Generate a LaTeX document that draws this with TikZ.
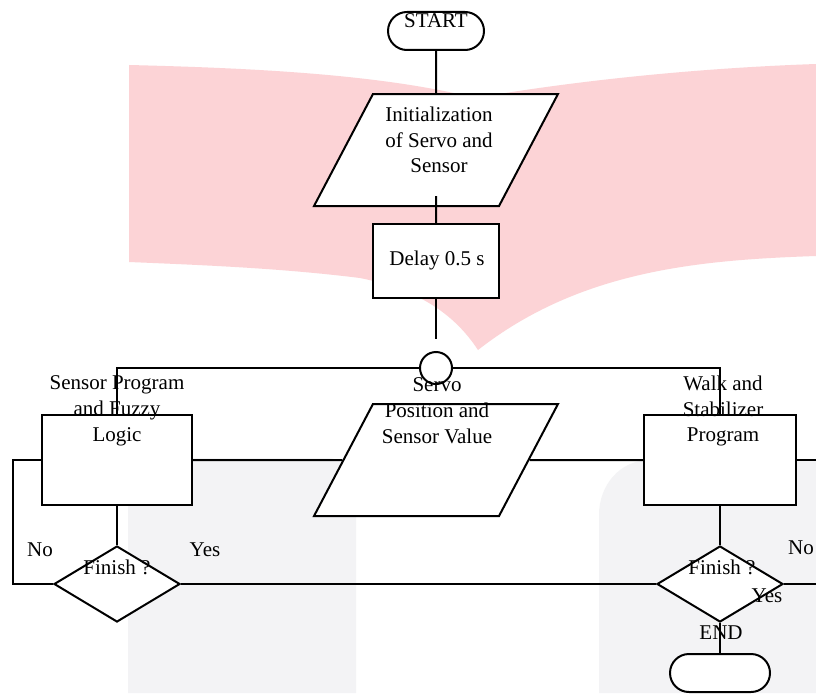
\documentclass[tikz,border=0pt]{standalone}
\usepackage{fontspec}
\setmainfont{Liberation Serif}
\usetikzlibrary{shapes.geometric,shapes.misc}
\definecolor{wmpink}{RGB}{252,211,214}
\definecolor{wmgray}{RGB}{243,243,245}

\begin{document}
\begin{tikzpicture}
    \begin{scope}
      [x=1pt, y=-1pt,
      line width=2pt,
      shp/.style={draw, fill=white, inner sep=0pt},
      proc/.style={shp, rectangle},
      io/.style={shp, trapezium, trapezium left angle=63, trapezium right angle=117,
        trapezium stretches, minimum width=244pt, minimum height=112pt},
      term/.style={shp, rounded rectangle, minimum height=38pt},
      dec/.style={shp, diamond, minimum width=126pt, minimum height=76pt},
      lbl/.style={align=center, inner sep=0pt, font=\fontsize{21}{25.8}\selectfont}]
      \fill[white] (0,0) rectangle (816,693);
      \useasboundingbox (0,0) rectangle (816,693);
      \fill[wmpink] (129,65) .. controls (250,68) and (380,74) .. (475,98)
        .. controls (580,80) and (700,68) .. (816,64) -- (816,256)
        .. controls (700,260) and (580,270) .. (478,350)
        .. controls (455,315) and (420,290) .. (360,278)
        .. controls (280,268) and (200,265) .. (129,262) -- cycle;
      \fill[wmgray] (128,693) -- (128,458) -- (326,458)
        .. controls (343,458) and (356,471) .. (356,488) -- (356,693) -- cycle;
      \fill[wmgray] (599,693) -- (599,515) .. controls (599,485) and (620,460) .. (650,460)
        -- (816,460) -- (816,693) -- cycle;
      \coordinate (edgeL) at (13,0);
      \coordinate (edgeR) at (816,0);
      \node[term, minimum width=96pt] (start) at (436,31) {};
      \node[io] (init) at (436,150) {\phantom{x}};
      \node[proc, minimum width=126pt, minimum height=74pt] (delay) at (436,261) {};
      \node[shp, circle, minimum size=32pt] (hub) at (436,368) {};
      \node[proc, minimum width=150pt, minimum height=90pt] (sensor) at (117,460) {};
      \node[io] (data) at (436,460) {\phantom{x}};
      \node[proc, minimum width=152pt, minimum height=90pt] (walk) at (720,460) {};
      \node[dec] (finL) at (117,584) {};
      \node[dec] (finR) at (720,584) {};
      \node[term, minimum width=100pt] (end) at (720,673) {};
      \draw (start.south) -- (init.north);
      \draw ([yshift=11pt]init.south) -- (delay.north);
      \draw (delay.south) -- ([yshift=12pt]hub.north);
      \draw (hub.west) -| (sensor.north);
      \draw (hub.east) -| (walk.north);
      \draw (sensor.west) -- (sensor.west -| edgeL) |- (finL.west);
      \draw (sensor.east) -- (data.west);
      \draw (data.east) -- (walk.west);
      \draw (walk.east) -- (walk.east -| edgeR);
      \draw (sensor.south) -- (finL.north);
      \draw (walk.south) -- (finR.north);
      \draw (finL.east) -- (finR.west);
      \draw (finR.east) -- (finR.east -| edgeR);
      \draw (finR.south) -- (end.north);
      \node[lbl] (startT) at (436,21) {START};
      \node[lbl] (initT) at (439,140) {Initialization\\of Servo and\\Sensor};
      \node[lbl] (delayT) at (437,260) {Delay 0.5 s};
      \node[lbl] (sensorT) at (117,411) {Sensor Program\\and Fuzzy\\Logic};
      \node[lbl] (dataT) at (437,411) {Servo\\Position and\\Sensor Value};
      \node[lbl] (walkT) at (723,411) {Walk and\\Stabilizer\\Program};
      \foreach \n/\x in {finLT/117,finRT/722}
        \node[lbl] (\n) at (\x,567) {Finish ?};
      \node[lbl] (noL) at (40,550) {No};
      \node[lbl] (yesL) at (205,550) {Yes};
      \node[lbl] (noR) at (801,548) {No};
      \node[lbl] (yesR) at (767,596) {Yes};
      \node[lbl] (endT) at (721,633) {END};
    \end{scope}
\end{tikzpicture}
\end{document}
